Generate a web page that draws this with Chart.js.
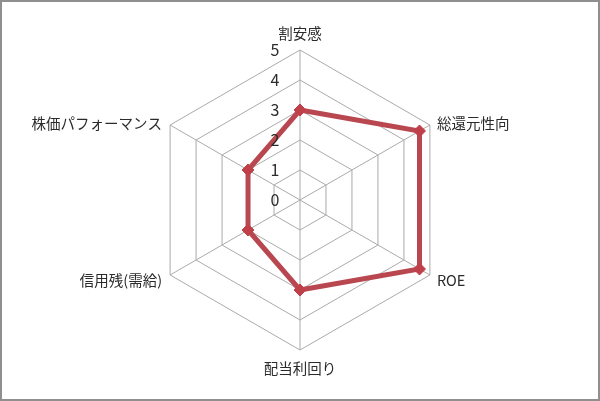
<!DOCTYPE html>
<html>
<head>
<meta charset="utf-8">
<style>
  html, body { margin: 0; padding: 0; background: #fff; }
  #wrap { position: relative; width: 600px; height: 401px; }
  #wrap::after { content: ""; position: absolute; inset: 0; border: 2px solid #8f8f8f; pointer-events: none; }
  canvas { display: block; }
</style>
</head>
<body>
<div id="wrap"><canvas id="radar" width="600" height="401"></canvas></div>
<script src="https://cdn.jsdelivr.net/npm/chart.js"></script>
<script>
// axes, clockwise from the top
const categories = ['割安感', '総還元性向', 'ROE', '配当利回り', '信用残(需給)', '株価パフォーマンス'];
const scores = [3, 4.6, 4.6, 3, 2, 2];
const tickValues = [0, 1, 2, 3, 4, 5];

const FONT = '"Noto Sans CJK JP", "Noto Sans", sans-serif';

// tick numbers sit left of the vertical axis, point labels sit beside the vertices
const labelPlugin = {
  id: 'labelPlugin',
  afterDraw(chart) {
    const scale = chart.scales.r;
    const ctx = chart.ctx;
    const xC = scale.xCenter, yC = scale.yCenter;
    ctx.save();
    ctx.fillStyle = '#2b2b2b';
    ctx.textBaseline = 'middle';

    ctx.font = '16px ' + FONT;
    ctx.textAlign = 'center';
    tickValues.forEach(v => {
      const d = scale.getDistanceFromCenterForValue(v);
      ctx.fillText(String(v), xC - 25, yC - d);
    });

    ctx.font = '14.5px ' + FONT;
    chart.data.labels.forEach((lab, i) => {
      const p = scale.getPointPosition(i, scale.drawingArea);
      if (Math.abs(p.x - xC) < 1) {
        ctx.textAlign = 'center';
        ctx.fillText(lab, p.x, p.y < yC ? p.y - 17 : p.y + 18);
      } else {
        const right = p.x > xC;
        ctx.textAlign = right ? 'left' : 'right';
        ctx.fillText(lab, right ? p.x + 7 : p.x - 8, p.y < yC ? p.y - 2 : p.y + 5);
      }
    });
    ctx.restore();
  }
};

new Chart(document.getElementById('radar'), {
  type: 'radar',
  data: {
    labels: categories,
    datasets: [{
      data: scores,
      borderColor: '#b9474f',
      backgroundColor: 'rgba(0,0,0,0)',
      borderWidth: 5,
      pointStyle: 'rectRot',
      pointRadius: 6,
      pointBackgroundColor: '#bf4049',
      pointBorderColor: '#bf4049',
      pointBorderWidth: 1,
      tension: 0
    }]
  },
  options: {
    responsive: false,
    animation: false,
    layout: { padding: { top: 50, bottom: 51, left: 0, right: 0 } },
    plugins: { legend: { display: false }, tooltip: { enabled: false } },
    scales: {
      r: {
        min: 0,
        max: 5,
        ticks: { display: false, stepSize: 1 },
        pointLabels: { display: false },
        grid: { color: '#aaaaaa', lineWidth: 1 },
        angleLines: { color: '#aaaaaa', lineWidth: 1 }
      }
    }
  },
  plugins: [labelPlugin]
});
</script>
</body>
</html>
